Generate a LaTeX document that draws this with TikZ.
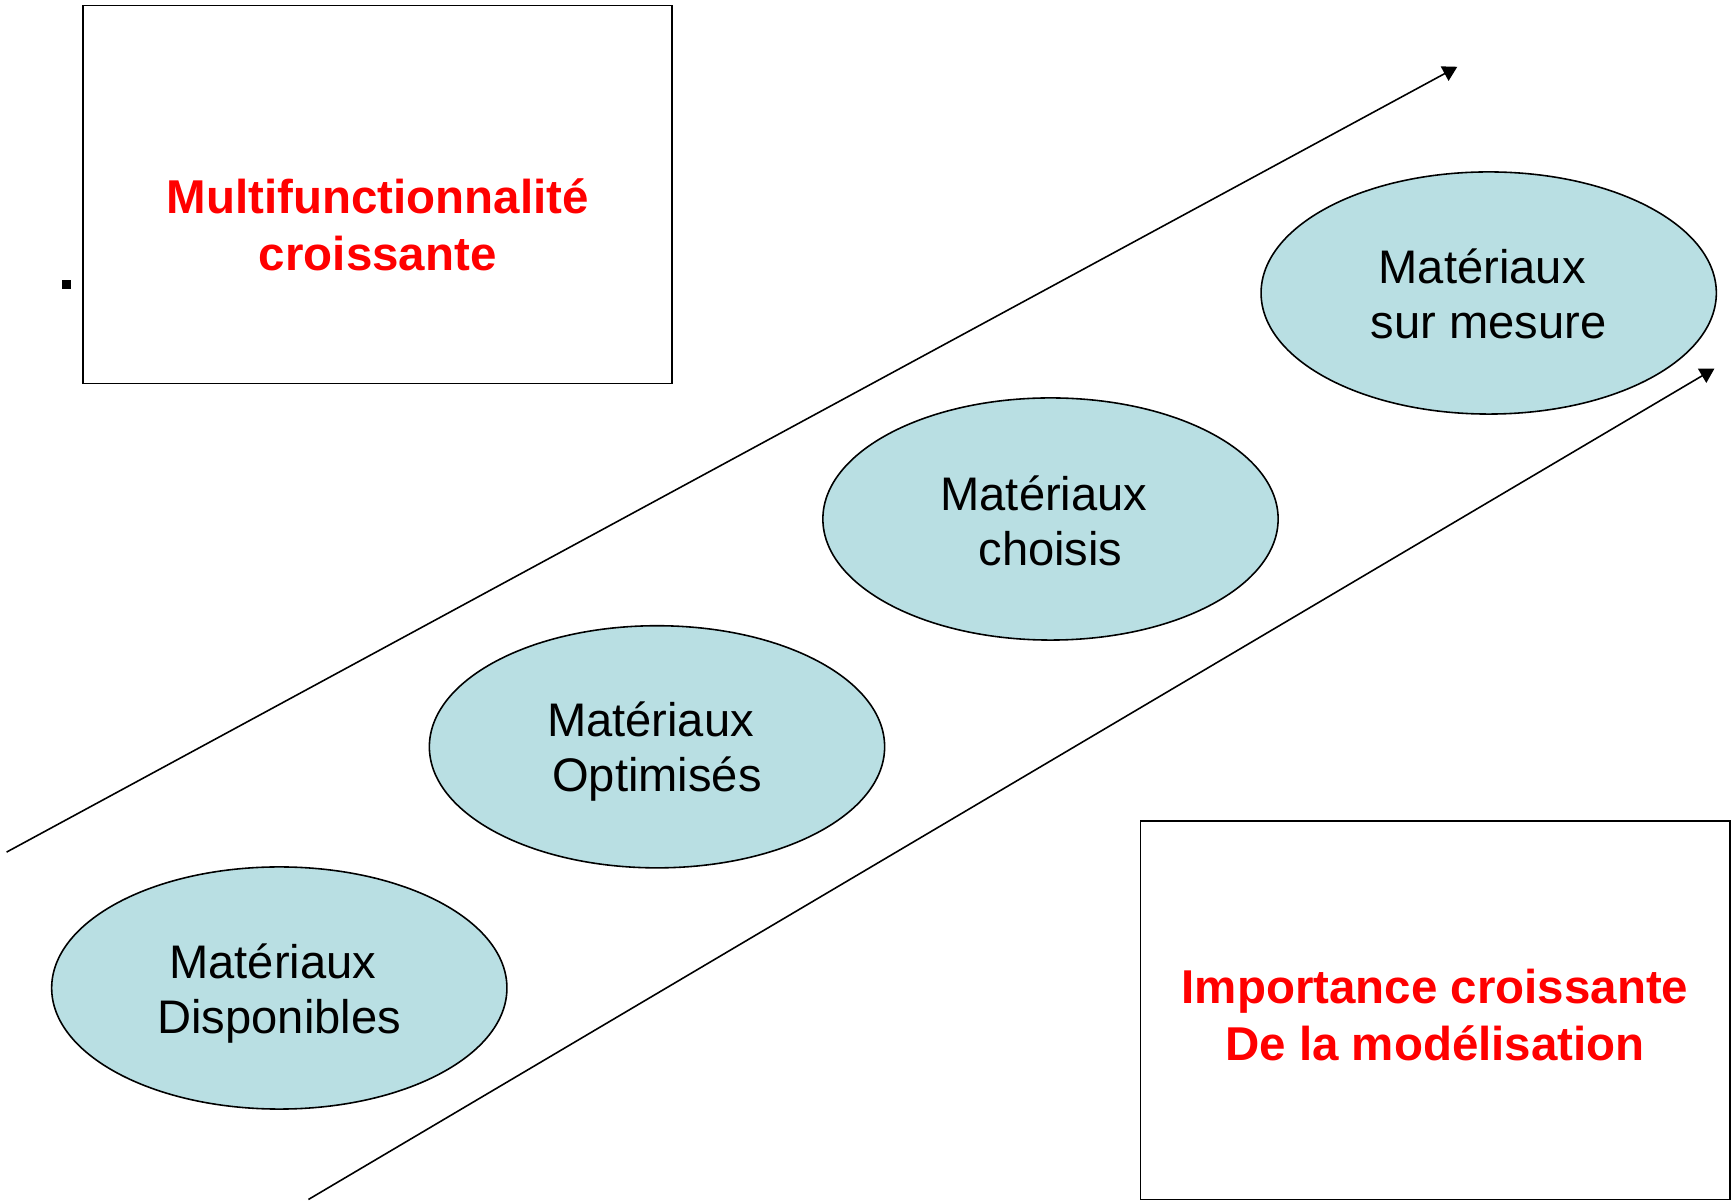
\documentclass[tikz,border=0pt]{standalone}
\usepackage{fontspec}
\setmainfont{Liberation Sans}
\usetikzlibrary{shapes.geometric,arrows.meta}
\definecolor{bulle}{RGB}{185,223,227}
\definecolor{titre}{RGB}{255,0,0}
% first line of each stage label carries a trailing space
\newcommand{\materiaux}{Matériaux\hphantom{\ }}
\begin{document}
\begin{tikzpicture}[x=0.01cm,y=-0.01cm,
  trait/.style={line width=0.45pt},
  fleche/.style={trait,-{Triangle[length=4.1pt,width=4.6pt]}},
  cadre/.style={draw,trait,rectangle,inner sep=0pt,minimum width=5.89cm,minimum height=3.78cm},
  bulle/.style={draw,trait,fill=bulle,ellipse,inner sep=0pt,minimum width=4.55cm,minimum height=2.42cm},
  legende/.style={align=center,inner sep=0pt,font=\fontsize{13.4pt}{15.65pt}\selectfont},
  rouge/.style={align=center,text=titre,inner sep=0pt,font=\fontsize{13.5pt}{16.3pt}\selectfont\bfseries}]
  \useasboundingbox (0,0) rectangle (1733,1201);

  % the two rising arrows
  \coordinate (hautA) at (6.6,852.1);
  \coordinate (hautB) at (1457.3,66.8);
  \coordinate (basA) at (308.4,1199.5);
  \coordinate (basB) at (1714.5,368.5);
  \draw[fleche] (hautA) -- (hautB);
  \draw[fleche] (basA) -- (basB);

  % framed captions
  \node[cadre] (boiteMulti) at (377.5,194.5) {};
  \node[rouge] (texteMulti) at (377.7,224.5) {Multifunctionnalité\\croissante};
  \node[cadre] (boiteModel) at (1435.2,1010.2) {};
  \node[rouge] (texteModel) at (1435,1015) {Importance croissante\\De la modélisation};
  \node[fill=black,inner sep=0pt,minimum size=0.087cm] (point) at (66.6,284.3) {};

  % the four material stages
  \node[bulle] (dispo) at (279.3,988) {};
  \node[legende] (dispoT) at ([yshift=-0.055cm]dispo.center) {\materiaux\\Disponibles};
  \node[bulle] (optim) at (657,746.8) {};
  \node[legende] (optimT) at ([yshift=-0.05cm]optim.center) {\materiaux\\Optimisés};
  \node[bulle] (choix) at (1050.5,519) {};
  \node[legende] (choixT) at ([yshift=-0.017cm]choix.center) {\materiaux\\choisis};
  \node[bulle] (mesure) at (1488.7,293) {};
  \node[legende] (mesureT) at ([yshift=-0.011cm]mesure.center) {\materiaux\\sur mesure};
\end{tikzpicture}
\end{document}
